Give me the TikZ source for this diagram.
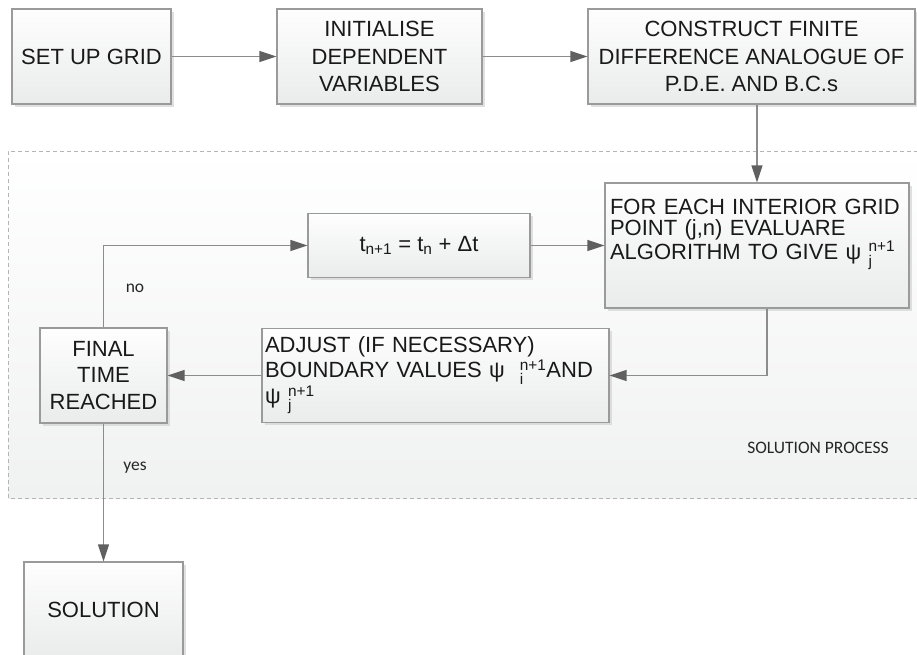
\documentclass[tikz,border=0pt]{standalone}
\usepackage{amsmath}
\usepackage{fontspec}
\setmainfont{Liberation Sans}
\newfontfamily\notefont{Carlito}
\usepackage{tikz}
\usetikzlibrary{arrows.meta,shadows,calc}

\definecolor{boxline}{HTML}{9A9A9A}
\definecolor{flowline}{HTML}{8C8C8C}
\definecolor{tipgray}{HTML}{606060}
\definecolor{boxtop}{HTML}{FEFEFE}
\definecolor{boxbot}{HTML}{EAEBEB}
\definecolor{regtop}{HTML}{FFFFFF}
\definecolor{regbot}{HTML}{F0F1F1}
\definecolor{regline}{HTML}{B4B4B4}

\newcommand{\ssub}[2]{\ensuremath{{}_{\text{#1}}^{\text{#2}}}}

\begin{document}
\begin{tikzpicture}[x=1pt,y=-1pt,
box/.style={draw=boxline,line width=1.1pt,top color=boxtop,bottom color=boxbot,
  drop shadow={shadow xshift=2.5pt,shadow yshift=-2.5pt,fill=black!20,opacity=0.6},
  inner sep=2pt,text=black!90,align=center,font=\fontsize{22}{27.3}\selectfont},
flow/.style={draw=flowline,line width=1.2pt,-{Triangle[length=17pt,width=11pt,color=tipgray]}},
note/.style={font=\notefont\fontsize{17.5}{20}\selectfont,text=black!85}]
\useasboundingbox (0,0) rectangle (917,654);

\fill[top color=regtop,bottom color=regbot] (8,151) rectangle (925,498);
\draw[regline,line width=1pt,dash pattern=on 4pt off 3pt] (925,151) -- (8,151) -- (8,498) -- (925,498);

\node (grid) at (91.5,56.5) [box,minimum width=159pt,minimum height=95pt] {SET UP GRID};
\node (init) at (379.5,56.5) [box,minimum width=205pt,minimum height=95pt] {INITIALISE\\DEPENDENT\\VARIABLES};
\node (fdm) at (751.5,56.5) [box,minimum width=327pt,minimum height=95pt] {CONSTRUCT FINITE\\DIFFERENCE ANALOGUE OF\\P.D.E. AND B.C.s};
\node (eval) at (757,245.5) [box,minimum width=304pt,minimum height=125pt,text width=294pt,align=left,font=\fontsize{22}{21.7}\selectfont] {FOR EACH INTERIOR GRID\\POINT (j,n) EVALUARE\\ALGORITHM TO GIVE ψ \ssub{j}{n+1}\\\strut};
\node (tstep) at (419,245.5) [box,minimum width=222pt,minimum height=64pt] {t\textsubscript{n+1} = t\textsubscript{n} + Δt};
\node (adjust) at (435.5,375.5) [box,minimum width=347pt,minimum height=94pt,text width=341pt,align=left,font=\fontsize{22}{25}\selectfont] {ADJUST (IF NECESSARY)\\BOUNDARY VALUES ψ\hspace{15pt}\ssub{i}{n+1}AND\\ψ \ssub{j}{n+1}};
\node (final) at (103.5,375.5) [box,minimum width=127pt,minimum height=95pt,font=\fontsize{22}{26.7}\selectfont] {FINAL\\TIME\\REACHED};
\node (sol) at (103.5,609.5) [box,minimum width=159pt,minimum height=95pt] {SOLUTION};

\node (no) at (135,288) [note] {no};
\node (yes) at (135,468) [note] {yes};
\node (proc) at (818,448) [note] {SOLUTION PROCESS};

\draw[flow] (grid) -- (init);
\draw[flow] (init) -- (fdm);
\draw[flow] (eval.north |- fdm.south) -- (eval.north);
\draw[flow] ([xshift=10pt]eval.south) |- (adjust.east);
\draw[flow] (adjust) -- (final);
\draw[flow] (final.north) |- (tstep.west);
\draw[flow] (tstep) -- (eval);
\draw[flow] (final) -- (sol);

\end{tikzpicture}
\end{document}
